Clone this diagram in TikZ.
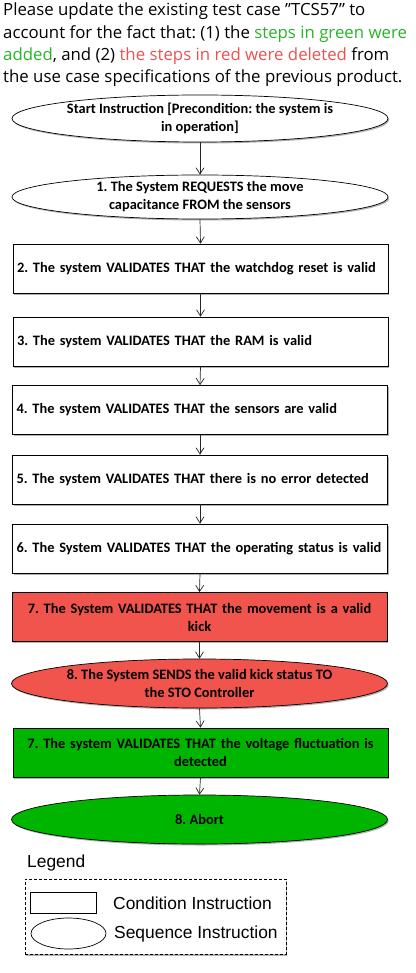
\documentclass[tikz,border=0pt]{standalone}
\usepackage{fontspec}
\setmainfont{Open Sans}
\newfontfamily\boxfont{Carlito}
\newfontfamily\legendfont{Liberation Sans}
\usetikzlibrary{arrows.meta,shapes.geometric,shadows}

\definecolor{delred}{RGB}{240,84,76}
\definecolor{addgreen}{RGB}{0,181,0}
\definecolor{txtgreen}{RGB}{40,180,40}
\definecolor{txtred}{RGB}{238,80,78}
\newcommand\boxtext{\boxfont\bfseries\fontsize{14.4}{18}\selectfont}
\newcommand\legtext{\legendfont\fontsize{17.4}{20}\selectfont}
\frenchspacing

\begin{document}
\begin{tikzpicture}[
				x=1pt, y=-1pt,
				shade/.style={drop shadow={shadow xshift=1.2pt, shadow yshift=-1.5pt, opacity=0.3, fill=black}},
				cond/.style={draw, line width=0.7pt, fill=white, shade, minimum width=375pt, minimum height=49pt, inner xsep=4pt, text width=367pt, align=left, font=\boxtext},
				condc/.style={cond, align=center},
				seq/.style={ellipse, draw, line width=0.7pt, fill=white, shade, minimum width=376pt, minimum height=47pt, inner xsep=-40pt, inner ysep=0pt, align=center, font=\boxtext},
				legtxt/.style={anchor=west, inner sep=0pt, font=\legtext},
				arr/.style={-{Straight Barb[length=2.2mm, width=2.8mm]}, line width=0.7pt, draw=black!85}
				]
				\useasboundingbox (0,0) rectangle (415,973);
				
				\node[anchor=north west, inner sep=0pt, align=left, font=\fontsize{16.8}{22.3}\selectfont] (hdr) at (3,3) {Please update the existing test case \char"22 TCS57” to\\
					account for the fact that: (1) the \textcolor{txtgreen}{steps in green were}\\
					\textcolor{txtgreen}{added}, and (2) \textcolor{txtred}{the steps in red were deleted} from\\
					the use case specifications of the previous product.};
				
				\node[seq] (s0) at (200,118.5) {Start Instruction [Precondition: the system is\\in operation]};
				\node[seq, minimum height=44pt] (s1) at (200,197) {1. The System REQUESTS the move\\capacitance FROM the sensors};
				\node[cond] (c2) at (200.5,268.5) {2. The system VALIDATES THAT the watchdog reset is valid};
				\node[cond] (c3) at (200.5,341.5) {3. The system VALIDATES THAT the RAM is valid};
				\node[cond] (c4) at (200,410) {4. The system VALIDATES THAT the sensors are valid};
				\node[cond] (c5) at (200,479.5) {5. The system VALIDATES THAT there is no error detected};
				\node[cond] (c6) at (200,548.5) {6. The System VALIDATES THAT the operating status is valid};
				\node[condc, fill=delred] (c7) at (199.5,617) {7. The System VALIDATES THAT the movement is a valid\\kick};
				\node[seq, fill=delred, minimum height=49pt] (s8) at (199.5,683.5) {8. The System SENDS the valid kick status TO\\the STO Controller};
				\node[condc, fill=addgreen] (c7g) at (200.5,752.5) {7. The system VALIDATES THAT the voltage fluctuation is\\detected};
				\node[seq, fill=addgreen, minimum height=49pt] (s8g) at (199.5,819.5) {8. Abort};
				
				\foreach \a/\b in {s0/s1, s1/c2, c2/c3, c3/c4, c4/c5, c5/c6, c6/c7, c7/s8, s8/c7g, c7g/s8g}
					\draw[arr] (\a.south) -- (\b.north);
				
				% legend
				\node[legtxt] (lgd) at (27,863) {Legend};
				\node[draw, dash pattern=on 3pt off 2pt, line width=0.7pt, fill=white, shade, minimum width=261pt, minimum height=75pt] (lgbox) at (155.5,916.5) {};
				\node[draw, line width=0.7pt, minimum width=66pt, minimum height=21pt] (lgcond) at (63,902.5) {};
				\node[ellipse, draw, line width=0.7pt, minimum width=75pt, minimum height=31pt] (lgseq) at (68.5,933.5) {};
				\node[legtxt] (lgcondtxt) at (113,903) {Condition Instruction};
				\node[legtxt] (lgseqtxt) at (114,934) {Sequence Instruction};
				
			\end{tikzpicture}
\end{document}
